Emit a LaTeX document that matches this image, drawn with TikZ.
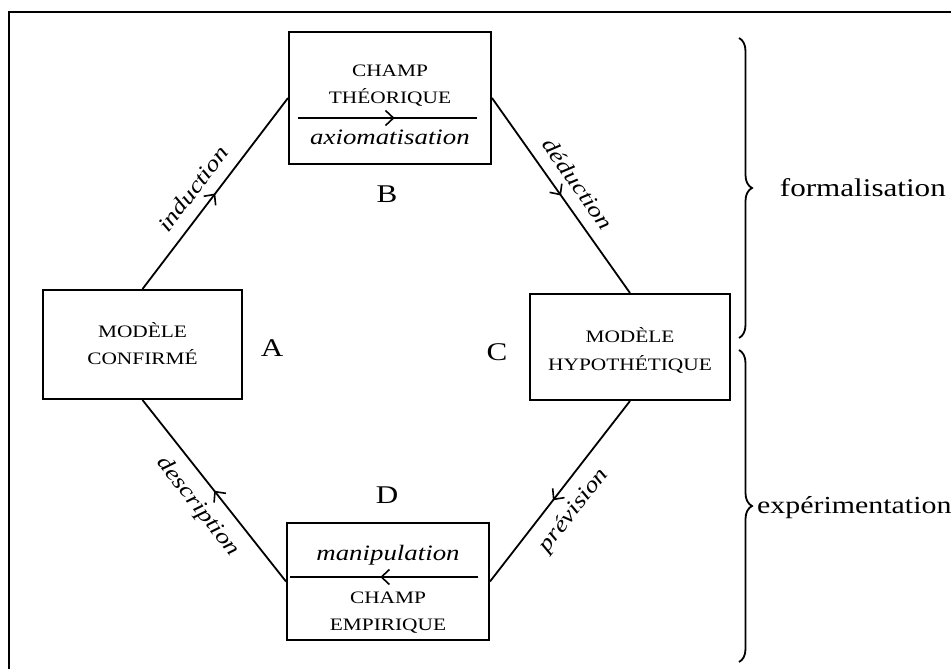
\documentclass[tikz,border=0pt]{standalone}
\usepackage{fontspec}
\setmainfont{Liberation Serif}[FakeStretch=1.22]
\usetikzlibrary{arrows.meta,decorations.markings,decorations.pathreplacing}
\begin{document}
\begin{tikzpicture}[x=1pt,y=-1pt,
  box/.style={draw,line width=2pt,inner sep=0pt},
  conn/.style={line width=1.8pt},
  caps/.style={font=\fontsize{17.5}{18}\selectfont, inner sep=0pt, anchor=base},
  ital/.style={font=\fontsize{22}{24}\selectfont\itshape, inner sep=0pt},
  big/.style={font=\fontsize{25.5}{28}\selectfont, inner sep=0pt},
  bracestyle/.style={line width=1.8pt, decorate, decoration={brace,amplitude=13pt}},
  midarr/.style={postaction={decorate},decoration={markings,mark=at position #1 with {\arrow{Straight Barb[length=8pt,width=15pt,line width=1.6pt]}}}},
  ]
\useasboundingbox (0,0) rectangle (951,669);
\fill[white] (0,0) rectangle (951,669);
\draw[line width=2pt] (8.5,669) -- (8.5,12.5) -- (951,12.5);

% boxes
\node[box,minimum width=202pt,minimum height=132pt] (B) at (390,98) {};
\node[box,minimum width=199pt,minimum height=109pt] (A) at (142.5,344.5) {};
\node[box,minimum width=200pt,minimum height=106pt] (C) at (630,347) {};
\node[box,minimum width=202pt,minimum height=117pt] (D) at (388,581.5) {};

% box B content
\node[caps] (b1) at (390,77) {CHAMP};
\node[caps] (b2) at (390,103) {THÉORIQUE};
\node[ital,anchor=base] (b3) at (390,144) {axiomatisation};
\coordinate (bl) at (298,118);
\coordinate (br) at (477,118);
\draw[conn,midarr=0.54] (bl) -- (br);

% box A content
\node[caps] (a1) at (142.5,337) {MODÈLE};
\node[caps] (a2) at (142.5,364) {CONFIRMÉ};

% box C content
\node[caps] (c1) at (630,342) {MODÈLE};
\node[caps] (c2) at (630,370) {HYPOTHÉTIQUE};

% box D content
\node[ital,anchor=base] (d1) at (388,560) {manipulation};
\coordinate (dr) at (478,577);
\coordinate (dl) at (290,577);
\draw[conn,midarr=0.52] (dr) -- (dl);
\node[caps] (d2) at (388,603) {CHAMP};
\node[caps] (d3) at (388,630) {EMPIRIQUE};

% letters
\node[big,anchor=base] (LA) at (272,356) {A};
\node[big,anchor=base] (LB) at (387,202) {B};
\node[big,anchor=base] (LC) at (497,360) {C};
\node[big,anchor=base] (LD) at (387,503) {D};

% connectors
\draw[conn,midarr=0.5] (A.north) -- node[ital,sloped,above=12pt,pos=0.46] {induction} (B.west);
\draw[conn,midarr=0.5] (B.east) -- node[ital,sloped,above=12pt,pos=0.5] {déduction} (C.north);
\draw[conn,midarr=0.55] (C.south) -- node[ital,sloped,below=12pt,pos=0.53] {prévision} (D.east);
\draw[conn,midarr=0.5] (D.west) -- node[ital,sloped,below=12pt,pos=0.49] {description} (A.south);

% braces
\coordinate (t1) at (739,38);
\coordinate (e1) at (739,338);
\coordinate (t2) at (739,350);
\coordinate (e2) at (739,662);
\draw[bracestyle] (t1) -- (e1);
\draw[bracestyle] (t2) -- (e2);
\node[big,anchor=base east] (F) at (946,196) {formalisation};
\node[big,anchor=base west,font=\fontsize{24.5}{26}\selectfont] (E) at (757,513) {expérimentation};
\end{tikzpicture}
\end{document}
